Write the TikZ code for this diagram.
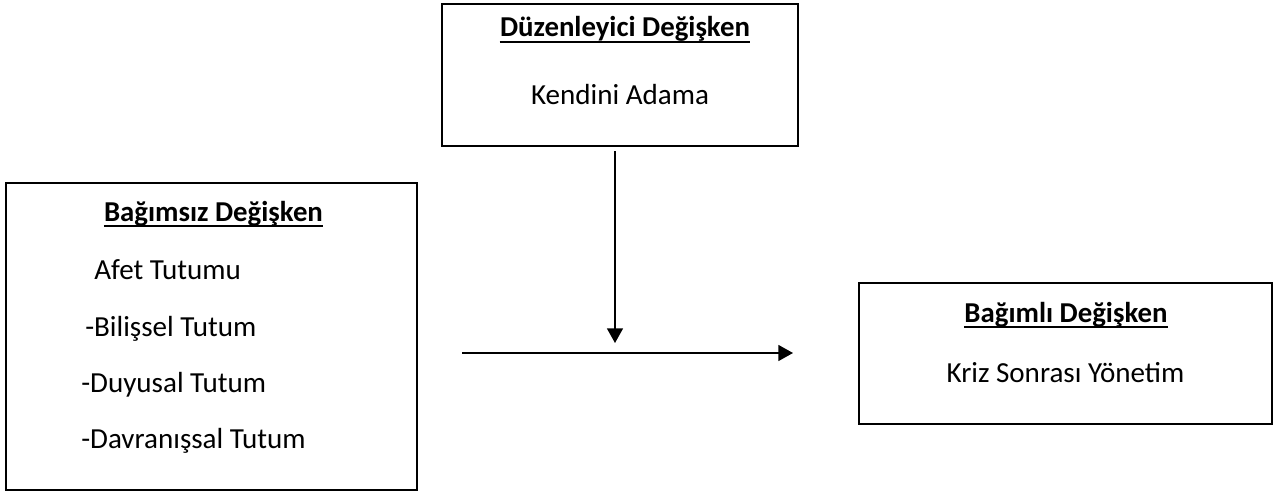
\documentclass[tikz,border=0pt]{standalone}
\usepackage{fontspec}
\setmainfont{Carlito}
\usetikzlibrary{arrows.meta}
\begin{document}
\begin{tikzpicture}[x=0.75pt,y=-0.75pt,
  box/.style={draw=black,line width=1.5pt,inner sep=0pt},
  txt/.style={inner sep=0pt,font=\fontsize{21.8pt}{25pt}\selectfont},
  hd/.style={txt,font=\fontsize{21.6pt}{25pt}\selectfont\bfseries},
  uline/.style={line width=1.3pt},
  arr/.style={line width=1.1pt,-{Triangle[width=12pt,length=11pt]}}]
\useasboundingbox (0,0) rectangle (1279,492);
% boxes
\node[box,minimum width=267pt,minimum height=106.5pt] (top) at (620,75) {};
\node[box,minimum width=308.25pt,minimum height=230.25pt] (left) at (211.5,336.5) {};
\node[box,minimum width=309.75pt,minimum height=105.75pt] (right) at (1065.5,353.5) {};
% texts
\node[hd,anchor=base] (h1) at (625,37) {Düzenleyici Değişken};
\node[txt,anchor=base] (t1) at (620,104) {Kendini Adama};
\node[hd,anchor=base] (h2) at (213.5,221) {Bağımsız Değişken};
\node[txt,anchor=base west] (l1) at (94,279) {Afet Tutumu};
\node[txt,anchor=base west] (l2) at (85,336) {-Bilişsel Tutum};
\node[txt,anchor=base west] (l3) at (81,392) {-Duyusal Tutum};
\node[txt,anchor=base west] (l4) at (81,448) {-Davranışsal Tutum};
\node[hd,anchor=base] (h3) at (1066,322) {Bağımlı Değişken};
\node[txt,anchor=base] (t3) at (1065.5,382) {Kriz Sonrası Yönetim};
% underlines
\foreach \h in {h1,h2,h3}
  \draw[uline] ([yshift=-3.6pt]\h.base west) -- ([yshift=-3.6pt]\h.base east);
% connectors
\coordinate (vend) at (615,343);
\coordinate (hs) at (462,353);
\coordinate (he) at (793,353);
\draw[arr] ([yshift=-3pt]vend |- top.south) -- (vend);
\draw[arr] (hs) -- (he);
\end{tikzpicture}
\end{document}
